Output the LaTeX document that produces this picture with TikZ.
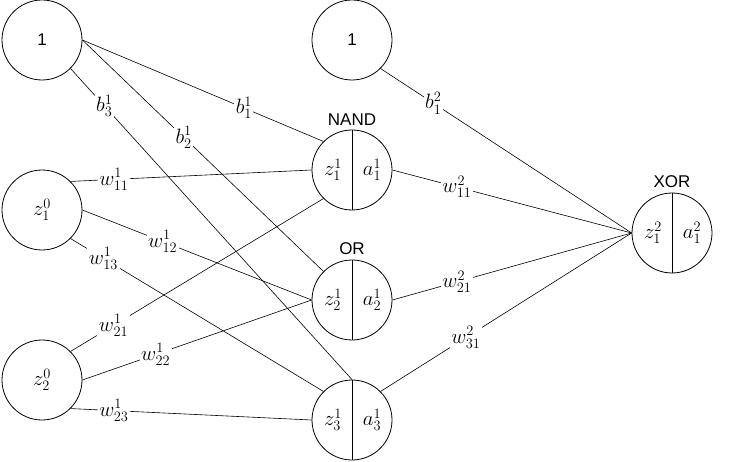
\documentclass[tikz,border=0pt]{standalone}
\usepackage{fontspec}
\setsansfont{Liberation Sans}
\usepackage{tikz}
\usetikzlibrary{positioning}

\begin{document}
\begin{tikzpicture}[y=1pt, x=1pt, yscale=-1, xscale=1,
    neuron/.style={draw=black, circle, minimum size=80pt, inner sep=0pt, line width=0.8pt, font=\fontsize{20}{22}\selectfont},
    wlabel/.style={fill=white, inner sep=1.5pt, font=\fontsize{20}{22}\selectfont},
    gate/.style={font=\sffamily\fontsize{17}{19}\selectfont},
    part/.style={font=\fontsize{20}{22}\selectfont},
    conn/.style={draw=black, line width=0.6pt}]
  \useasboundingbox (0,0) rectangle (738,462);
  % input layer
  \node[neuron] (bin) at (42,40) {\sffamily\fontsize{17}{19}\selectfont 1};
  \node[neuron] (x1) at (42,210) {$z_1^0$};
  \node[neuron] (x2) at (42,380) {$z_2^0$};
  % hidden layer
  \node[neuron] (bhid) at (352,40) {\sffamily\fontsize{17}{19}\selectfont 1};
  \node[neuron] (h1) at (352,170) {};
  \node[neuron] (h2) at (352,300) {};
  \node[neuron] (h3) at (352,420) {};
  % output layer
  \node[neuron] (out) at (672,233) {};
  \foreach \n/\i/\l in {h1/1/1, h2/2/1, h3/3/1, out/1/2} {
    \draw[line width=0.8pt] (\n.north) -- (\n.south);
    \node[part] (\n z) at ([xshift=-19pt]\n.center) {$z_\i^\l$};
    \node[part] (\n a) at ([xshift=20pt]\n.center) {$a_\i^\l$};
  }
  \node[gate, above=1pt of h1] (nand) {NAND};
  \node[gate, above=1pt of h2] (or) {OR};
  \node[gate, above=1pt of out] (xor) {XOR};
  % connections
  \draw[conn] (bin.east) -- node[wlabel, pos=0.67] {$b_1^1$} (h1.135);
  \draw[conn] (bin.east) -- node[wlabel, pos=0.42] {$b_2^1$} (h2.135);
  \draw[conn] (bin.-45) -- node[wlabel, pos=0.12] {$b_3^1$} (h3.north);
  \draw[conn] (x1.45) -- node[wlabel, pos=0.18] {$w_{11}^1$} (h1.west);
  \draw[conn] (x1.east) -- node[wlabel, pos=0.35] {$w_{12}^1$} (h2.west);
  \draw[conn] (x1.-45) -- node[wlabel, pos=0.13] {$w_{13}^1$} (h3.135);
  \draw[conn] (x2.45) -- node[wlabel, pos=0.17] {$w_{21}^1$} (h1.225);
  \draw[conn] (x2.east) -- node[wlabel, pos=0.32] {$w_{22}^1$} (h2.west);
  \draw[conn] (x2.-45) -- node[wlabel, pos=0.18] {$w_{23}^1$} (h3.west);
  \draw[conn] (bhid.-45) -- node[wlabel, pos=0.21] {$b_1^2$} (out.west);
  \draw[conn] (h1.east) -- node[wlabel, pos=0.27] {$w_{11}^2$} (out.west);
  \draw[conn] (h2.east) -- node[wlabel, pos=0.27] {$w_{21}^2$} (out.west);
  \draw[conn] (h3.45) -- node[wlabel, pos=0.34] {$w_{31}^2$} (out.west);
\end{tikzpicture}
\end{document}
